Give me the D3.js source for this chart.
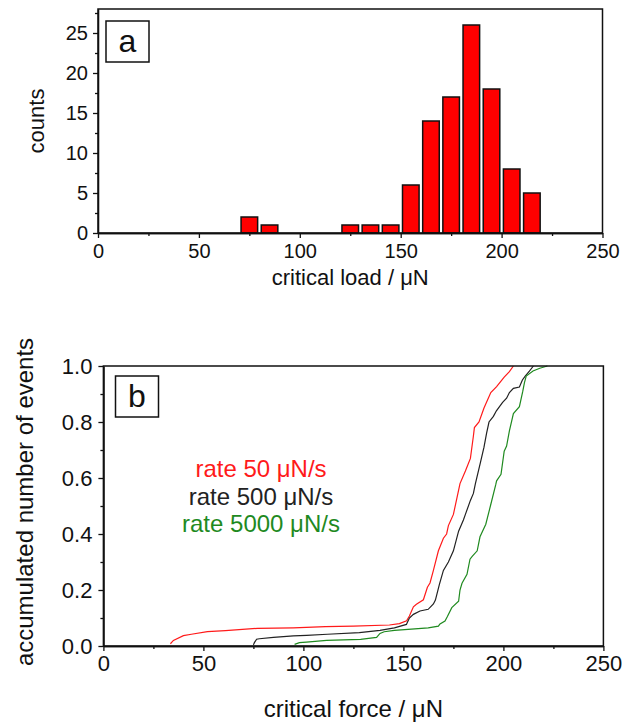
<!DOCTYPE html>
<html>
<head>
<meta charset="utf-8">
<script src="https://cdn.jsdelivr.net/npm/d3@7"></script>
<style>
  body { margin: 0; background: #fff; }
  svg text { font-family: "Liberation Sans", Arial, sans-serif; fill: #111; }
  .axis path, .axis line { stroke: #111; stroke-width: 1.3; }
</style>
</head>
<body>
<script>
// histogram (panel a): bin starts and counts, bin width 10 uN
const binStart = [70, 80, 120, 130, 140, 150, 160, 170, 180, 190, 200, 210];
const binCounts = [2, 1, 1, 1, 1, 6, 14, 17, 26, 18, 8, 5];
const binWidth = 10;

// cumulative curves (panel b)
const rate50Force = [33.5, 35, 40, 44, 52, 61, 77, 95, 111, 125, 143, 148, 151.6, 153, 155, 156.5, 160, 162, 163.3, 165, 167.5, 170, 171.6, 172.5, 175, 176.8, 178.3, 181, 183.5, 185, 185.5, 187.8, 190.3, 193.7, 196.6, 200.4, 203, 205];
const rate50Frac = [0.008, 0.02, 0.037, 0.042, 0.051, 0.055, 0.063, 0.065, 0.069, 0.071, 0.075, 0.08, 0.09, 0.107, 0.14, 0.149, 0.165, 0.21, 0.225, 0.27, 0.34, 0.385, 0.40, 0.43, 0.47, 0.53, 0.58, 0.625, 0.67, 0.75, 0.78, 0.80, 0.85, 0.905, 0.926, 0.96, 0.98, 1.0];

const rate500Force = [75, 75.5, 76.6, 78, 85, 95, 101.6, 112, 128, 138.3, 145.5, 151.5, 153, 155, 158.3, 162.4, 165, 166, 168, 170, 172.5, 175, 177.6, 180, 181, 183.5, 185, 186, 188.5, 190.3, 191.6, 192.8, 195, 196.5, 199.6, 201.6, 203, 205, 208, 209.5, 211, 213, 215];
const rate500Frac = [0.004, 0.012, 0.024, 0.026, 0.031, 0.036, 0.038, 0.042, 0.048, 0.056, 0.065, 0.077, 0.1, 0.113, 0.125, 0.131, 0.15, 0.164, 0.22, 0.27, 0.30, 0.34, 0.41, 0.45, 0.47, 0.52, 0.545, 0.58, 0.655, 0.71, 0.76, 0.80, 0.82, 0.84, 0.87, 0.885, 0.905, 0.92, 0.925, 0.95, 0.965, 0.982, 1.0];

const rate5000Force = [95.6, 98, 101.5, 111.6, 128.6, 136.6, 138.3, 140.4, 145.5, 154, 162.4, 167.5, 168.3, 170.8, 172, 174.2, 177.6, 178.3, 179.3, 181.8, 183.3, 184.4, 186.9, 188.3, 191.2, 193.5, 196.2, 196.6, 198.8, 200.4, 201.6, 203, 205, 208, 209.7, 210.5, 211.4, 214.8, 218.2, 222];
const rate5000Frac = [0.006, 0.012, 0.014, 0.02, 0.024, 0.031, 0.045, 0.051, 0.056, 0.06, 0.065, 0.071, 0.079, 0.089, 0.105, 0.137, 0.16, 0.2, 0.224, 0.256, 0.31, 0.32, 0.34, 0.39, 0.435, 0.50, 0.577, 0.59, 0.613, 0.696, 0.714, 0.768, 0.83, 0.855, 0.91, 0.94, 0.964, 0.982, 0.992, 1.0];

const seriesNames = ["rate 50 \u03bcN/s", "rate 500 \u03bcN/s", "rate 5000 \u03bcN/s"];
const seriesColors = ["#ff1a1a", "#222", "#1f8a1f"];

let svg = d3.select("body").append("svg")
  .attr("width", 628)
  .attr("height", 726);

svg.append("rect").attr("width", 628).attr("height", 726).attr("fill", "#fff");

// ---------- panel a ----------
let a = {left: 98, right: 602.5, top: 9, bottom: 233};

let xA = d3.scaleLinear().domain([0, 250]).range([a.left, a.right]);
let yA = d3.scaleLinear().domain([0, 28]).range([a.bottom, a.top]);

let gA = svg.append("g");

gA.selectAll("rect.bar")
  .data(binStart)
  .enter()
  .append("rect")
  .attr("class", "bar")
  .attr("x", d => xA(d) + 1.8)
  .attr("width", d => xA(d + binWidth) - xA(d) - 3.6)
  .attr("y", (d, i) => yA(binCounts[i]))
  .attr("height", (d, i) => yA(0) - yA(binCounts[i]))
  .attr("fill", "#ff0000")
  .attr("stroke", "#111")
  .attr("stroke-width", 1.5);

// axes with minor ticks
gA.append("g").attr("class", "axis")
  .attr("transform", "translate(0," + a.bottom + ")")
  .call(d3.axisBottom(xA).tickValues([25, 75, 125, 175, 225]).tickSize(3).tickSizeOuter(0).tickFormat(""));
gA.append("g").attr("class", "axis")
  .attr("transform", "translate(0," + a.bottom + ")")
  .call(d3.axisBottom(xA).tickValues([0, 50, 100, 150, 200, 250]).tickSize(5).tickSizeOuter(0).tickPadding(6))
  .selectAll("text").style("font-size", "20px");
gA.append("g").attr("class", "axis")
  .attr("transform", "translate(" + a.left + ",0)")
  .call(d3.axisLeft(yA).tickValues([2.5, 7.5, 12.5, 17.5, 22.5, 27.5]).tickSize(3).tickSizeOuter(0).tickFormat(""));
gA.append("g").attr("class", "axis")
  .attr("transform", "translate(" + a.left + ",0)")
  .call(d3.axisLeft(yA).tickValues([0, 5, 10, 15, 20, 25]).tickSize(5).tickSizeOuter(0).tickPadding(5))
  .selectAll("text").style("font-size", "20px");

gA.append("rect")
  .attr("x", a.left).attr("y", a.top)
  .attr("width", a.right - a.left).attr("height", a.bottom - a.top)
  .attr("fill", "none").attr("stroke", "#111").attr("stroke-width", 1.5);

gA.append("text")
  .attr("x", (a.left + a.right) / 2).attr("y", 285)
  .attr("text-anchor", "middle").style("font-size", "22px")
  .text("critical load / \u03bcN");
gA.append("text")
  .attr("transform", "translate(44," + ((a.top + a.bottom) / 2) + ") rotate(-90)")
  .attr("text-anchor", "middle").style("font-size", "22px")
  .text("counts");

gA.append("rect").attr("x", 106).attr("y", 21).attr("width", 43).attr("height", 41)
  .attr("fill", "#fff").attr("stroke", "#111").attr("stroke-width", 1.5);
gA.append("text").attr("x", 127.5).attr("y", 52).attr("text-anchor", "middle")
  .style("font-size", "32px").text("a");

// ---------- panel b ----------
let b = {left: 103.4, right: 603.4, top: 366, bottom: 646};

let xB = d3.scaleLinear().domain([0, 250]).range([b.left, b.right]);
let yB = d3.scaleLinear().domain([0, 1]).range([b.bottom, b.top]);

let gB = svg.append("g");

gB.append("g").attr("class", "axis")
  .attr("transform", "translate(0," + b.bottom + ")")
  .call(d3.axisBottom(xB).tickValues([25, 75, 125, 175, 225]).tickSize(3).tickSizeOuter(0).tickFormat(""));
gB.append("g").attr("class", "axis")
  .attr("transform", "translate(0," + b.bottom + ")")
  .call(d3.axisBottom(xB).tickValues([0, 50, 100, 150, 200, 250]).tickSize(5).tickSizeOuter(0).tickPadding(4))
  .selectAll("text").style("font-size", "22px");
gB.append("g").attr("class", "axis")
  .attr("transform", "translate(" + b.left + ",0)")
  .call(d3.axisLeft(yB).tickValues([0.1, 0.3, 0.5, 0.7, 0.9]).tickSize(3).tickSizeOuter(0).tickFormat(""));
gB.append("g").attr("class", "axis")
  .attr("transform", "translate(" + b.left + ",0)")
  .call(d3.axisLeft(yB).tickValues([0, 0.2, 0.4, 0.6, 0.8, 1.0]).tickSize(5).tickSizeOuter(0).tickPadding(6).tickFormat(d3.format(".1f")))
  .selectAll("text").style("font-size", "22px");

let curves = [
  d3.zip(rate50Force, rate50Frac),
  d3.zip(rate500Force, rate500Frac),
  d3.zip(rate5000Force, rate5000Frac)
];

let line = d3.line().x(d => xB(d[0])).y(d => yB(d[1]));

gB.selectAll("path.curve")
  .data(curves)
  .enter()
  .append("path")
  .attr("class", "curve")
  .attr("d", line)
  .attr("fill", "none")
  .attr("stroke", (d, i) => seriesColors[i])
  .attr("stroke-width", 1.2);

gB.append("rect")
  .attr("x", b.left).attr("y", b.top)
  .attr("width", b.right - b.left).attr("height", b.bottom - b.top)
  .attr("fill", "none").attr("stroke", "#111").attr("stroke-width", 1.5);

// legend text
gB.selectAll("text.legend")
  .data(seriesNames)
  .enter()
  .append("text")
  .attr("class", "legend")
  .attr("x", 261)
  .attr("y", (d, i) => 477 + i * 27.5)
  .attr("text-anchor", "middle")
  .style("font-size", "24px")
  .style("fill", (d, i) => seriesColors[i])
  .text(d => d);

gB.append("text")
  .attr("x", (b.left + b.right) / 2).attr("y", 717)
  .attr("text-anchor", "middle").style("font-size", "24px")
  .text("critical force / \u03bcN");
gB.append("text")
  .attr("transform", "translate(33," + ((b.top + b.bottom) / 2 - 4) + ") rotate(-90)")
  .attr("text-anchor", "middle").style("font-size", "24px")
  .text("accumulated number of events");

gB.append("rect").attr("x", 115.5).attr("y", 376).attr("width", 43).attr("height", 41)
  .attr("fill", "#fff").attr("stroke", "#111").attr("stroke-width", 1.5);
gB.append("text").attr("x", 137).attr("y", 407).attr("text-anchor", "middle")
  .style("font-size", "32px").text("b");
</script>
</body>
</html>
